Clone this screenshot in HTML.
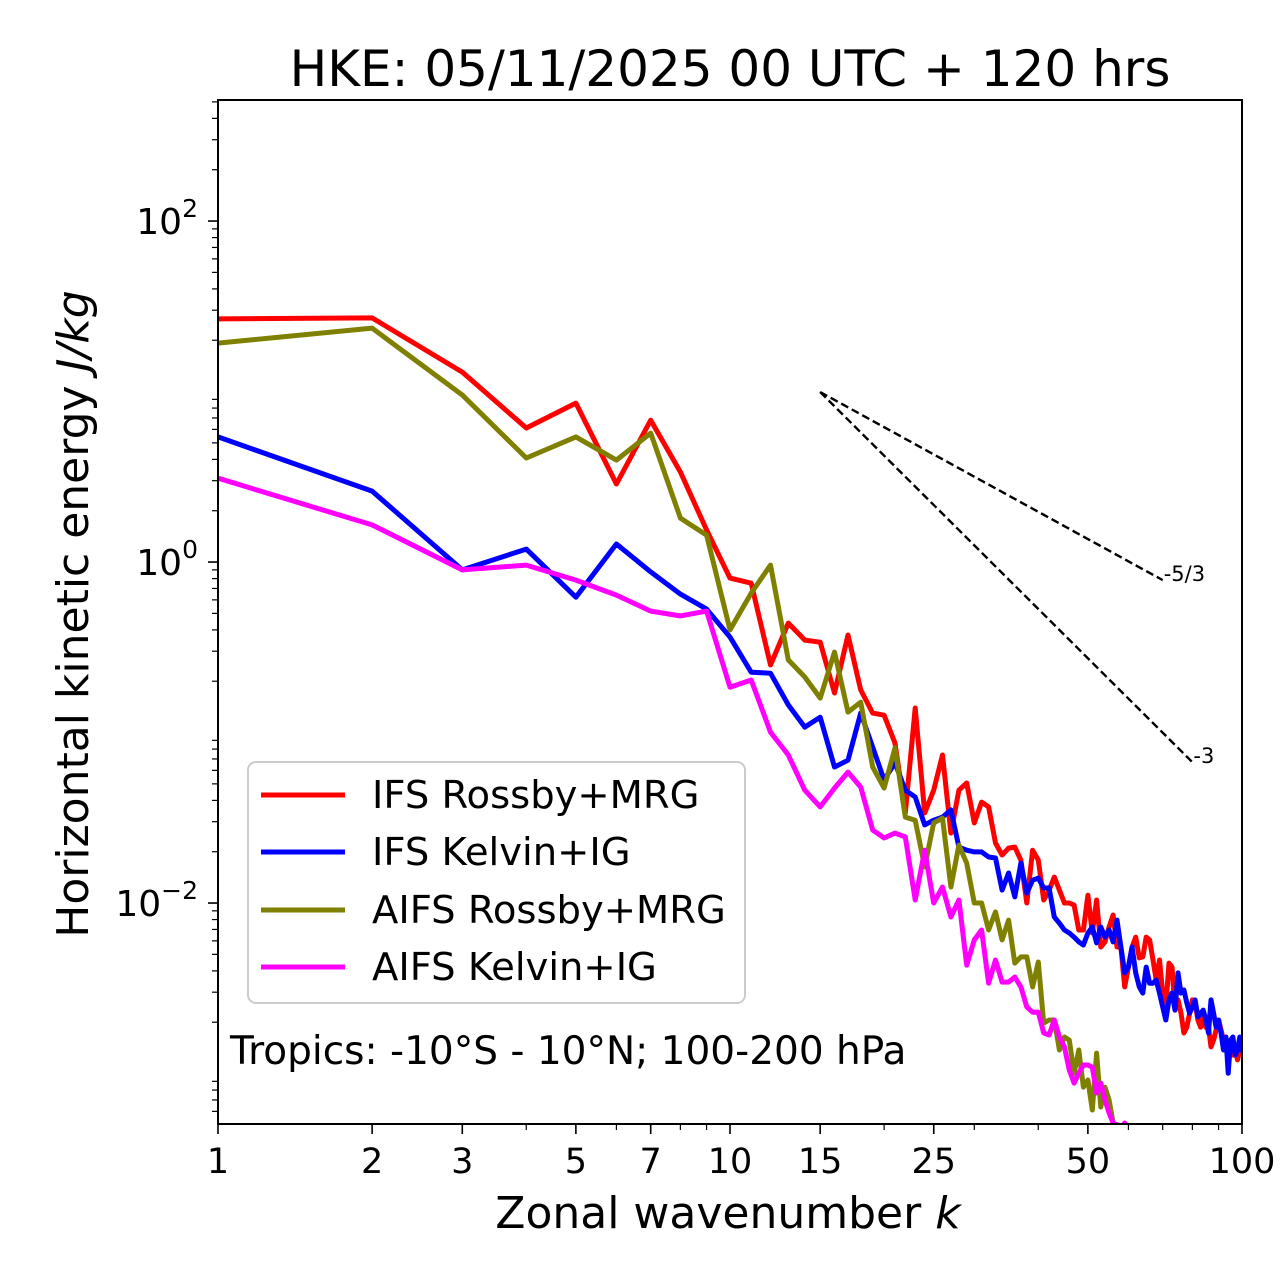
<!DOCTYPE html>
<html><head><meta charset="utf-8"><style>
html,body{margin:0;padding:0;background:#fff;width:1280px;height:1288px;overflow:hidden;}
svg{display:block;}
svg text{font-family:"DejaVu Sans","Liberation Sans",sans-serif;}
</style></head><body>
<svg id="chart" width="1280" height="1288" viewBox="0 0 1280 1288" xmlns="http://www.w3.org/2000/svg">
<rect width="1280" height="1288" fill="#fff"/>
<text x="730" y="86" font-size="50" text-anchor="middle">HKE: 05/11/2025 00 UTC + 120 hrs</text>
<defs><clipPath id="plotclip"><rect x="218" y="100" width="1024" height="1024"/></clipPath></defs>
<g id="ticks"></g>
<g id="series" clip-path="url(#plotclip)"></g>
<rect x="218" y="100" width="1024" height="1024" fill="none" stroke="#000" stroke-width="2"/>
<text x="728" y="1228" font-size="44" text-anchor="middle">Zonal wavenumber <tspan font-style="italic">k</tspan></text>
<text transform="translate(88,614) rotate(-90)" font-size="44" text-anchor="middle">Horizontal kinetic energy <tspan font-style="italic">J/kg</tspan></text>
<g>
<rect x="248" y="762" width="497" height="241" rx="8" fill="#fff" fill-opacity="0.8" stroke="#ccc" stroke-width="2"/>
<line x1="261" y1="795" x2="345" y2="795" stroke="#ff0000" stroke-width="5"/>
<text x="372" y="808" font-size="38.5">IFS Rossby+MRG</text>
<line x1="261" y1="852" x2="345" y2="852" stroke="#0000ff" stroke-width="5"/>
<text x="372" y="865" font-size="38.5">IFS Kelvin+IG</text>
<line x1="261" y1="910" x2="345" y2="910" stroke="#808000" stroke-width="5"/>
<text x="372" y="923" font-size="38.5">AIFS Rossby+MRG</text>
<line x1="261" y1="967" x2="345" y2="967" stroke="#ff00ff" stroke-width="5"/>
<text x="372" y="980" font-size="38.5">AIFS Kelvin+IG</text>
</g>
<text x="230" y="1064" font-size="39">Tropics: -10°S - 10°N; 100-200 hPa</text>
</svg>
<script>
// Values are log base 100 of energy (J/kg), i.e. log10(E)/2, for k = 1..N
const ifsRossbyLog100 = [0.713,0.716,0.557,0.393,0.466,0.229,0.416,0.264,0.094,-0.047,-0.062,-0.302,-0.179,-0.229,-0.235,-0.384,-0.214,-0.375,-0.443,-0.449,-0.531,-0.736,-0.428,-0.736,-0.669,-0.566,-0.795,-0.669,-0.648,-0.765,-0.704,-0.718,-0.824,-0.859,-0.839,-0.836,-0.874,-1.0,-0.845,-0.874,-0.991,-0.962,-0.924,-0.962,-1.0,-1.0,-1.006,-1.079,-1.079,-0.977,-1.088,-0.991,-1.129,-1.114,-1.070,-1.035,-1.129,-1.129,-1.246,-1.188,-1.129,-1.100,-1.161,-1.158,-1.100,-1.108,-1.167,-1.226,-1.167,-1.264,-1.305,-1.176,-1.188,-1.314,-1.284,-1.323,-1.381,-1.364,-1.323,-1.284,-1.293,-1.343,-1.364,-1.334,-1.364,-1.364,-1.422,-1.402,-1.372,-1.343,-1.372,-1.402,-1.431,-1.416,-1.402,-1.446,-1.431,-1.460,-1.431,-1.431];
const ifsKelvinLog100 = [0.367,0.208,-0.023,0.038,-0.103,0.053,-0.029,-0.094,-0.138,-0.220,-0.323,-0.326,-0.419,-0.484,-0.455,-0.601,-0.581,-0.443,-0.543,-0.639,-0.589,-0.669,-0.689,-0.771,-0.757,-0.748,-0.727,-0.836,-0.845,-0.850,-0.850,-0.865,-0.868,-0.962,-0.912,-0.982,-0.883,-0.971,-0.933,-0.927,-0.956,-0.956,-1.041,-1.059,-1.079,-1.088,-1.100,-1.114,-1.123,-1.088,-1.070,-1.117,-1.070,-1.100,-1.079,-1.114,-1.050,-1.129,-1.205,-1.188,-1.129,-1.205,-1.246,-1.264,-1.188,-1.235,-1.235,-1.226,-1.264,-1.305,-1.343,-1.284,-1.264,-1.314,-1.205,-1.264,-1.255,-1.293,-1.323,-1.305,-1.284,-1.334,-1.323,-1.314,-1.343,-1.381,-1.284,-1.323,-1.364,-1.343,-1.381,-1.431,-1.393,-1.499,-1.402,-1.393,-1.446,-1.431,-1.393,-1.437];
const aifsRossbyLog100 = [0.642,0.686,0.490,0.305,0.367,0.299,0.378,0.129,0.079,-0.199,-0.091,-0.009,-0.287,-0.337,-0.399,-0.264,-0.440,-0.411,-0.601,-0.663,-0.545,-0.748,-0.757,-0.894,-0.765,-0.751,-0.953,-0.830,-0.883,-1.0,-1.0,-1.079,-1.026,-1.108,-1.050,-1.176,-1.158,-1.158,-1.246,-1.173,-1.352,-1.343,-1.343,-1.431,-1.393,-1.402,-1.499,-1.431,-1.540,-1.519,-1.607,-1.440,-1.598,-1.540,-1.578,-1.645,-1.70];
const aifsKelvinLog100 = [0.246,0.109,-0.023,-0.009,-0.053,-0.097,-0.144,-0.158,-0.144,-0.367,-0.346,-0.499,-0.566,-0.669,-0.718,-0.663,-0.616,-0.660,-0.786,-0.809,-0.795,-0.806,-0.991,-0.845,-1.0,-0.953,-1.041,-0.991,-1.182,-1.108,-1.079,-1.235,-1.167,-1.232,-1.232,-1.217,-1.246,-1.305,-1.320,-1.320,-1.381,-1.387,-1.343,-1.393,-1.422,-1.490,-1.528,-1.499,-1.475,-1.475,-1.481,-1.557,-1.528,-1.578,-1.616,-1.645,-1.65,-1.66,-1.645,-1.66,-1.70];
const refStartK = 15, refStartLog100 = 0.4985;
const refEndK = [70, 80];
const refEndLog100 = [-0.053, -0.587];
const refLabels = ["-5/3", "-3"];
const xTickVals = [1,2,3,5,7,10,15,25,50,100];
const xMinorVals = [4,6,8,9,20,30,40,60,70,80,90];
const yMajorExp10 = [-2,0,2];
const yMinorExp10 = [-4,-3,-2,-1,0,1,2];

const X0=218, XW=1024, Y0=100, YH=1024;
const xMinL=0, xMaxL=2, yMinL=-1.648, yMaxL=1.355; // log100 units
function xs(k){return X0 + (Math.log10(k)-xMinL)/(xMaxL-xMinL)*XW;}
function ysL(l){return Y0 + (yMaxL-l)/(yMaxL-yMinL)*YH;}
const NS="http://www.w3.org/2000/svg";
function mk(tag, attrs, parent){const e=document.createElementNS(NS,tag);for(const a in attrs)e.setAttribute(a,attrs[a]);parent.appendChild(e);return e;}
const ticks=document.getElementById('ticks');
const series=document.getElementById('series');

xTickVals.forEach(v=>{
  const x=xs(v);
  const t=mk('line',{x1:x,y1:1124,x2:x,y2:1134,stroke:'#000','stroke-width':1.6},ticks);
  
  
  const l=mk('text',{x:x,y:1173,'font-size':35,'text-anchor':'middle'},ticks);
  l.textContent=String(v);
  
  
});
xMinorVals.forEach(v=>{
  const x=xs(v);
  const t=mk('line',{x1:x,y1:1124,x2:x,y2:1130,stroke:'#000','stroke-width':1.2},ticks);
  
  
});
yMajorExp10.forEach(e=>{
  const y=ysL(e/2);
  const t=mk('line',{x1:208,y1:y,x2:218,y2:y,stroke:'#000','stroke-width':1.6},ticks);
  
  
  const l=mk('text',{x:198,y:y+13,'font-size':36,'text-anchor':'end'},ticks);
  l.innerHTML='10<tspan dy="-17" font-size="25">'+(e<0?'\u2212'+(-e):e)+'</tspan>';
  
  
});
yMinorExp10.forEach(e=>{
  for(let m=2;m<=9;m++){
    const l=(e+Math.log10(m))/2;
    if(l<yMinL||l>yMaxL) continue;
    const y=ysL(l);
    const t=mk('line',{x1:212,y1:y,x2:218,y2:y,stroke:'#000','stroke-width':1.2},ticks);
    
    
  }
});

function drawSeries(arr,color,name){
  const pts=arr.map((l,i)=>xs(i+1).toFixed(1)+','+ysL(l).toFixed(1)).join(' ');
  const p=mk('polyline',{points:pts,fill:'none',stroke:color,'stroke-width':5,'stroke-linejoin':'round'},series);
  
  
}
drawSeries(ifsRossbyLog100,'#ff0000','ifs-rossby-mrg-line');
drawSeries(ifsKelvinLog100,'#0000ff','ifs-kelvin-ig-line');
drawSeries(aifsRossbyLog100,'#808000','aifs-rossby-mrg-line');
drawSeries(aifsKelvinLog100,'#ff00ff','aifs-kelvin-ig-line');

refEndK.forEach((k,i)=>{
  const ln=mk('line',{x1:xs(refStartK),y1:ysL(refStartLog100),x2:xs(k),y2:ysL(refEndLog100[i]),stroke:'#000','stroke-width':2.4,'stroke-dasharray':'8,4'},series);
  
  
  const tx=mk('text',{x:xs(k)+1,y:ysL(refEndLog100[i])+1,'font-size':21},ticks);
  tx.textContent=refLabels[i];
  
  
});
</script>
</body></html>
